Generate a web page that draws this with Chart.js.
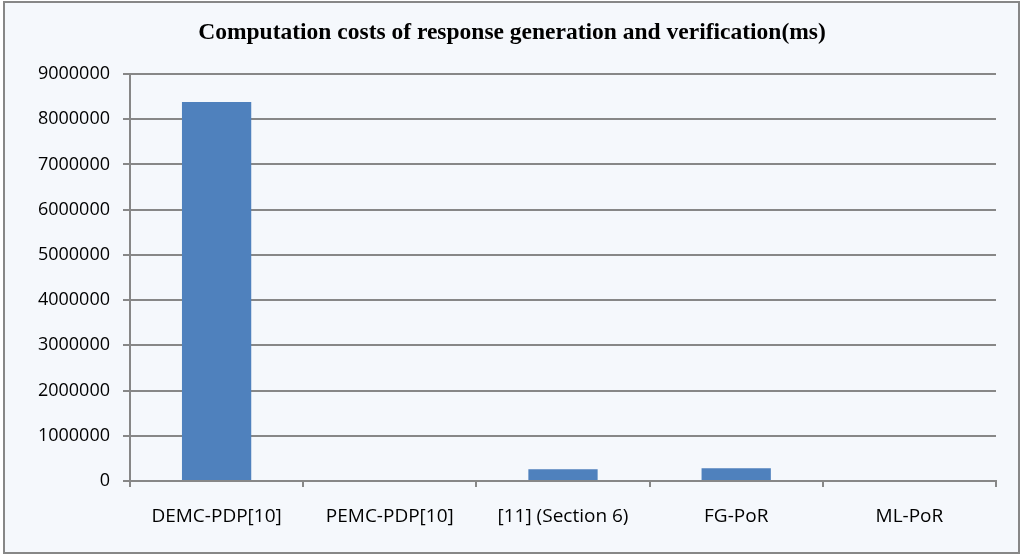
<!DOCTYPE html>
<html>
<head>
<meta charset="utf-8">
<script src="https://cdn.jsdelivr.net/npm/chart.js@4"></script>
<style>
html,body{margin:0;padding:0;background:#ffffff;}
#wrap{position:absolute;left:0;top:0;width:1024px;height:558px;}
</style>
</head>
<body>
<div id="wrap"><canvas id="c" width="1024" height="558"></canvas></div>
<script>
const titleText = 'Computation costs of response generation and verification(ms)';
const categories = ['DEMC-PDP[10]', 'PEMC-PDP[10]', '[11] (Section 6)', 'FG-PoR', 'ML-PoR'];
const costs = [8380000, 0, 260000, 283000, 0];
const yMax = 9000000;
const yStep = 1000000;

const frame = {
  id: 'frame',
  beforeDraw(chart) {
    const ctx = chart.ctx;
    ctx.save();
    ctx.fillStyle = '#f5f8fc';
    ctx.fillRect(4, 2, 1015, 551);
    ctx.strokeStyle = '#878787';
    ctx.lineWidth = 2;
    ctx.strokeRect(4, 2, 1015, 551);
    ctx.restore();
  }
};

new Chart(document.getElementById('c'), {
  type: 'bar',
  data: {
    labels: categories,
    datasets: [{
      data: costs,
      backgroundColor: '#4f81bd',
      borderWidth: 0,
      categoryPercentage: 1,
      barPercentage: 0.4
    }]
  },
  options: {
    responsive: false,
    animation: false,
    devicePixelRatio: 1,
    layout: { padding: { left: 0, right: 0, top: 0, bottom: 0 } },
    plugins: {
      legend: { display: false },
      tooltip: { enabled: false },
      title: {
        display: true,
        text: titleText,
        color: '#000000',
        font: { family: 'Liberation Serif', size: 23.5, weight: 'bold' },
        padding: { top: 19, bottom: 26.8 }
      }
    },
    scales: {
      x: {
        offset: true,
        afterFit(s) { s.height = 77; },
        grid: {
          offset: true,
          drawOnChartArea: false,
          drawTicks: true,
          tickLength: 6,
          color: '#878787',
          lineWidth: 2
        },
        border: { display: true, color: '#878787', width: 2 },
        ticks: {
          color: '#000000',
          font: { family: 'Open Sans', size: 19 },
          padding: 18,
          maxRotation: 0,
          autoSkip: false
        }
      },
      y: {
        min: 0,
        max: yMax,
        afterFit(s) { s.width = 130; },
        grid: {
          color: '#878787',
          lineWidth: 2,
          tickLength: 7
        },
        border: { display: true, color: '#878787', width: 2 },
        ticks: {
          stepSize: yStep,
          color: '#000000',
          font: { family: 'Open Sans', size: 18 },
          padding: 13,
          callback: v => String(v)
        }
      },
      yRight: {
        position: 'right',
        display: true,
        min: 0,
        max: yMax,
        afterFit(s) { s.width = 28; },
        grid: { display: false, drawOnChartArea: false },
        border: { display: false },
        ticks: { display: false }
      }
    }
  },
  plugins: [frame]
});
</script>
</body>
</html>
